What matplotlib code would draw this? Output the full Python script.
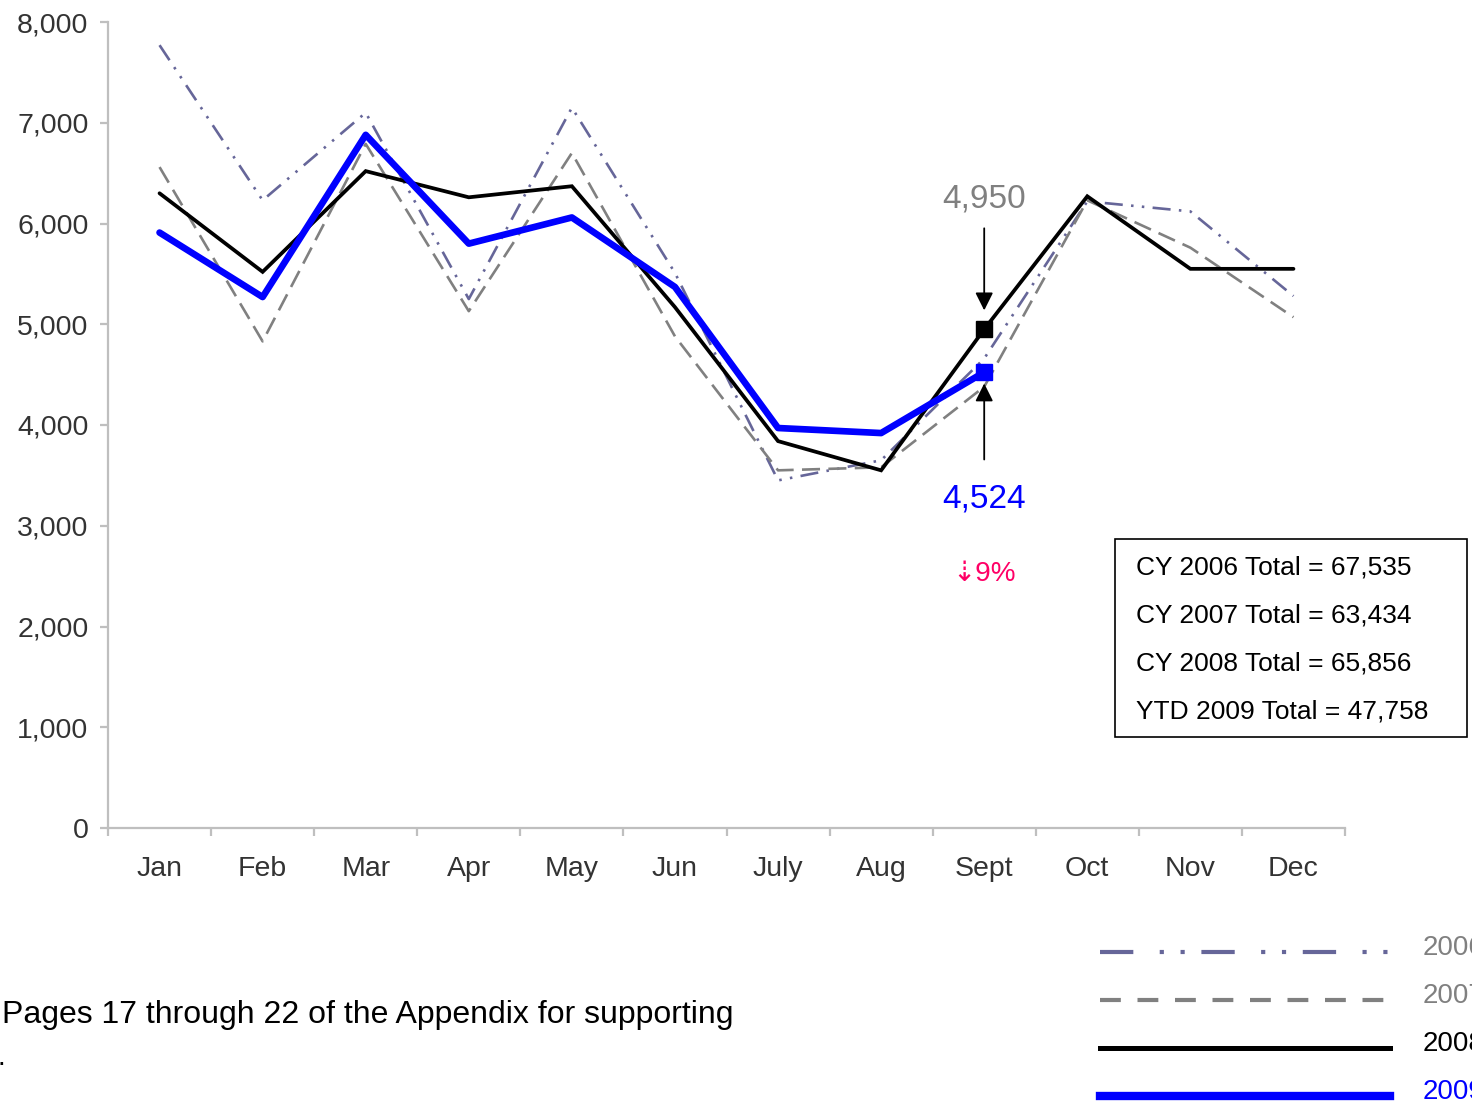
import matplotlib
matplotlib.use("Agg")
import matplotlib.pyplot as plt
from matplotlib.lines import Line2D
from matplotlib.patches import Rectangle
from matplotlib.ticker import FuncFormatter

plt.rcParams['font.family'] = ['Liberation Sans', 'DejaVu Sans']
plt.rcParams['lines.scale_dashes'] = False

months = ["Jan", "Feb", "Mar", "Apr", "May", "Jun", "July", "Aug", "Sept", "Oct", "Nov", "Dec"]
v2006 = [7770, 6230, 7100, 5250, 7150, 5510, 3450, 3650, 4660, 6220, 6120, 5280]
v2007 = [6560, 4830, 6790, 5130, 6700, 4880, 3550, 3580, 4380, 6230, 5760, 5070]
v2008 = [6300, 5520, 6520, 6260, 6370, 5170, 3840, 3550, 4950, 6270, 5550, 5550]
v2009 = [5910, 5270, 6880, 5800, 6060, 5370, 3970, 3920, 4524]
series_labels = ["2006", "2007", "2008", "2009"]
totals_text = ["CY 2006 Total = 67,535", "CY 2007 Total = 63,434",
               "CY 2008 Total = 65,856", "YTD 2009 Total = 47,758"]
sept_2008_label = "4,950"
sept_2009_label = "4,524"
change_label = "\u21e39%"
footnote = "Pages 17 through 22 of the Appendix for supporting"

W, H = 1472, 1103
fig = plt.figure(figsize=(W / 100, H / 100), dpi=100)

def fx(px):
    return px / W

def fy(py):
    return 1 - py / H

ax = fig.add_axes([fx(108), fy(828), fx(1345) - fx(108), fy(22) - fy(828)])

x = list(range(12))
c06, c07, c08, c09 = "#666699", "#808080", "#000000", "#0000ff"
ax.plot(x, v2006, color=c06, lw=1.9, dashes=(13, 6, 1.8, 6, 1.8, 6))
ax.plot(x, v2007, color=c07, lw=1.9, dashes=(13, 6))
ax.plot(x, v2008, color=c08, lw=2.7, solid_capstyle='round', solid_joinstyle='miter',
        marker='s', markevery=[8], markersize=11)
ax.plot(x[:len(v2009)], v2009, color=c09, lw=4.8, solid_capstyle='round',
        marker='s', markevery=[8], markersize=11)

ax.set_xlim(-0.5, 11.5)
ax.set_ylim(0, 8000)
ax.set_yticks(range(0, 8001, 1000))
ax.yaxis.set_major_formatter(FuncFormatter(lambda v, p: f"{int(v):,}"))
ax.set_xticks([i - 0.5 for i in range(13)])
ax.set_xticklabels([])
ax.set_xticks(x, labels=months, minor=True)

for s in ["top", "right"]:
    ax.spines[s].set_visible(False)
for s in ["left", "bottom"]:
    ax.spines[s].set_color("#bfbfbf")
    ax.spines[s].set_linewidth(1.6)
ax.tick_params(axis='both', which='major', color="#bfbfbf", width=1.6, length=6,
               labelsize=20.5, labelcolor="#333333")
ax.tick_params(axis='y', pad=8)
ax.tick_params(axis='x', which='minor', length=0, pad=20, labelsize=20.5, labelcolor="#333333")

# annotations at Sept
ax.text(8, 6240, sept_2008_label, color="#808080", fontsize=24, ha='center', va='center')
ax.annotate("", xy=(8, 5110), xytext=(8, 5980),
            arrowprops=dict(arrowstyle="-|>,head_length=0.6,head_width=0.3",
                            color="black", lw=1.3, mutation_scale=18))
ax.annotate("", xy=(8, 4440), xytext=(8, 3630),
            arrowprops=dict(arrowstyle="-|>,head_length=0.6,head_width=0.3",
                            color="black", lw=1.3, mutation_scale=18))
ax.text(8, 3270, sept_2009_label, color="#0000ff", fontsize=24, ha='center', va='center')
ax.text(8, 2520, change_label, color="#ff0066", fontsize=20, ha='center', va='center')

# totals box
fig.add_artist(Rectangle((fx(1115), fy(737)), fx(1467) - fx(1115), fy(539) - fy(737),
                         transform=fig.transFigure, fill=False, edgecolor='black', lw=1.2))
for i, t in enumerate(totals_text):
    fig.text(fx(1136), fy(567 + 48 * i), t, fontsize=19, ha='left', va='center', color='black')

# legend (bottom right, clipped at figure edge as in the reference)
leg_styles = [
    dict(color=c06, lw=3.0, dashes=(24, 19, 3, 12, 3, 12)),
    dict(color=c07, lw=3.0, dashes=(15, 12)),
    dict(color=c08, lw=3.6),
    dict(color=c09, lw=6.0),
]
leg_text_colors = ["#808080", "#808080", "#000000", "#0000ff"]
for i, (lab, st) in enumerate(zip(series_labels, leg_styles)):
    yy = 952 + 48 * i
    fig.add_artist(Line2D([fx(1100), fx(1390)], [fy(yy), fy(yy)], transform=fig.transFigure, **st))
    fig.text(fx(1423), fy(yy - 4), lab, fontsize=20, color=leg_text_colors[i], ha='left', va='center')

fig.text(fx(2), fy(1015), footnote, fontsize=23, ha='left', va='center', color='black')
fig.text(fx(-2), fy(1058), ".", fontsize=20, ha='left', va='center', color='black')

fig.savefig("out.png", dpi=100)
